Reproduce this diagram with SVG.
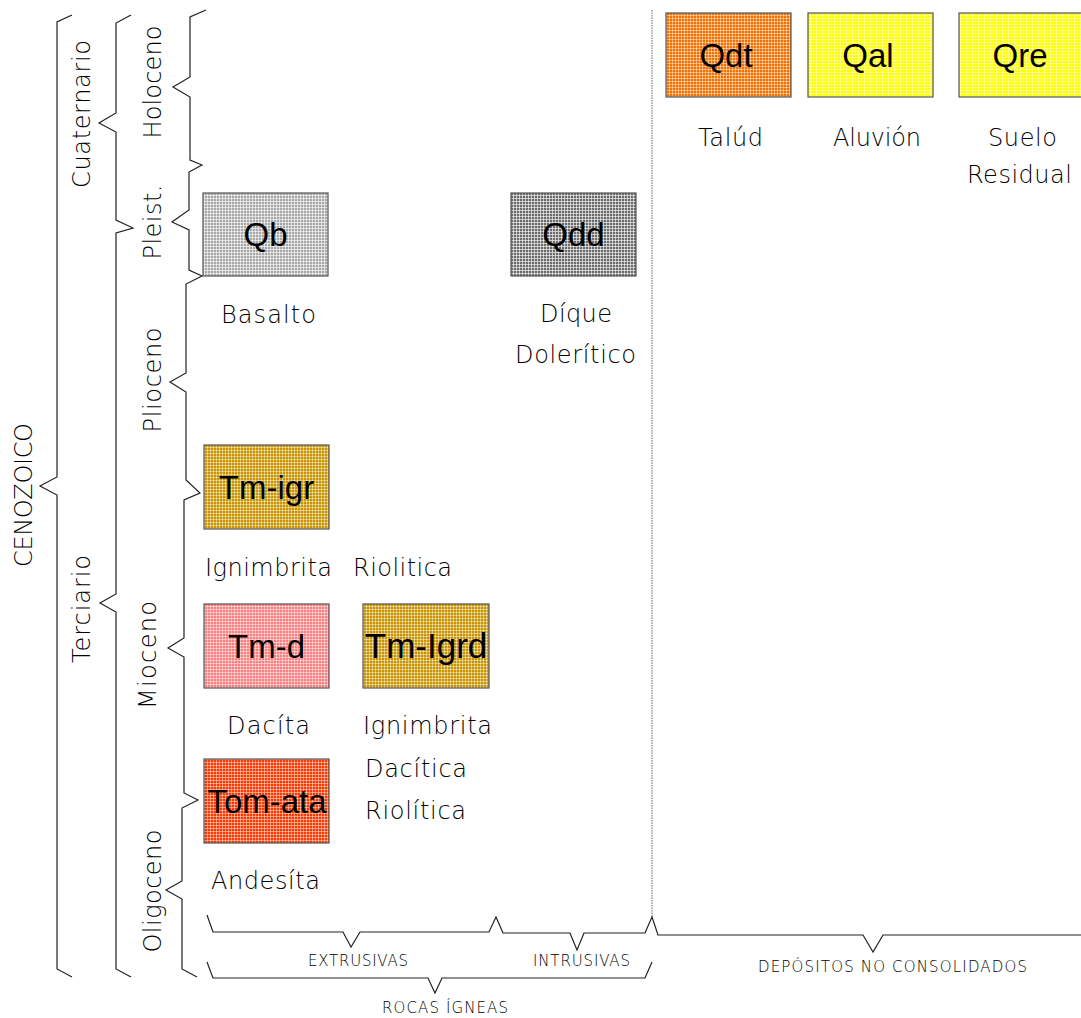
<svg xmlns="http://www.w3.org/2000/svg" width="1081" height="1018" viewBox="0 0 1081 1018">
<style>
.br{fill:none;stroke:#222;stroke-width:1.2;stroke-linejoin:miter}
.box{stroke:#555;stroke-width:1.2}
.code{font-family:"Liberation Sans",Arial,sans-serif;font-size:33px;fill:#000;text-anchor:middle}
.lbl{font-family:"DejaVu Sans","Liberation Sans",sans-serif;font-weight:200;font-size:24px;fill:#000}
.rot{font-family:"DejaVu Sans","Liberation Sans",sans-serif;font-weight:200;font-size:24px;fill:#000;text-anchor:middle}
.sm{font-family:"DejaVu Sans","Liberation Sans",sans-serif;font-weight:200;font-size:15px;fill:#000}
.gl{stroke:#fff;stroke-width:1;stroke-opacity:0.45}
</style>
<defs>
<pattern id="pQb" width="3" height="3" patternUnits="userSpaceOnUse"><rect width="3" height="3" fill="#a8a8a8"/><path class="gl" d="M0,0.5H3M0.5,0V3" style="stroke-opacity:0.6"/></pattern>
<pattern id="pQdd" width="3" height="3" patternUnits="userSpaceOnUse"><rect width="3" height="3" fill="#6c6c6c"/><path class="gl" d="M0,0.5H3M0.5,0V3" style="stroke-opacity:0.6"/></pattern>
<pattern id="pOr" width="3" height="3" patternUnits="userSpaceOnUse"><rect width="3" height="3" fill="#f07000"/><path class="gl" d="M0,0.5H3M0.5,0V3"/></pattern>
<pattern id="pYe" width="3" height="3" patternUnits="userSpaceOnUse"><rect width="3" height="3" fill="#ffff00"/><path class="gl" d="M0,0.5H3M0.5,0V3"/></pattern>
<pattern id="pGo" width="3" height="3" patternUnits="userSpaceOnUse"><rect width="3" height="3" fill="#c89400"/><path class="gl" d="M0,0.5H3M0.5,0V3"/></pattern>
<pattern id="pPk" width="3" height="3" patternUnits="userSpaceOnUse"><rect width="3" height="3" fill="#f88080"/><path class="gl" d="M0,0.5H3M0.5,0V3"/></pattern>
<pattern id="pRd" width="3" height="3" patternUnits="userSpaceOnUse"><rect width="3" height="3" fill="#f83800"/><path class="gl" d="M0,0.5H3M0.5,0V3"/></pattern>
</defs>
<rect width="1081" height="1018" fill="#fff"/>

<g id="connectors">
<path class="br" d="M72,15 L57,22 L57,477 L40,486 L57,495 L57,969 L72,977"/>
<path class="br" d="M131,15 L116,23 L116,113 L99,123 L116,132 L116,220 L133,228 L116,233 L116,594 L100,603 L116,612 L116,969 L131,977"/>
<path class="br" d="M206,10 L190,17 L190,77 L173,87 L190,97 L190,160 L202,165 L189,172 L189,210 L172,222 L189,230 L189,270 L202,276 L186,284 L186,373 L170,382 L186,392 L186,480 L200,493 L184,500 L184,638 L168,648 L184,657 L184,793 L198,800 L182,808 L182,881 L166,890 L182,899 L182,969 L197,977"/>
<path class="br" d="M207,915 L213,932 L343,932 L351,947 L360,932 L489,932 L496,917 L503,933 L570,933 L577,950 L584,933 L645,933 L652,917 L658,935 L863,935 L873,952 L883,935 L1081,935"/>
<path class="br" d="M207,962 L213,978 L428,978 L435,993 L442,978 L645,978 L652,962"/>
<path d="M652,10 V917" fill="none" stroke="#666" stroke-width="1" stroke-dasharray="1.5,1"/>
</g>

<g id="era-labels">
<text class="rot" transform="translate(23,495) rotate(-90)" y="9" textLength="144" lengthAdjust="spacing">CENOZOICO</text>
<text class="rot" transform="translate(81,114) rotate(-90)" y="9" textLength="148" lengthAdjust="spacing">Cuaternario</text>
<text class="rot" transform="translate(81,609) rotate(-90)" y="9" textLength="108" lengthAdjust="spacing">Terciario</text>
<text class="rot" transform="translate(152,82) rotate(-90)" y="9" textLength="113" lengthAdjust="spacing">Holoceno</text>
<text class="rot" transform="translate(152,222) rotate(-90)" y="9" textLength="75" lengthAdjust="spacing">Pleist.</text>
<text class="rot" transform="translate(152,380) rotate(-90)" y="9" textLength="105" lengthAdjust="spacing">Plioceno</text>
<text class="rot" transform="translate(147,655) rotate(-90)" y="9" textLength="108" lengthAdjust="spacing">Mioceno</text>
<text class="rot" transform="translate(152,891) rotate(-90)" y="9" textLength="123" lengthAdjust="spacing">Oligoceno</text>
</g>

<g id="Qb"><rect class="box" x="203" y="193" width="125" height="83" fill="url(#pQb)"/><text class="code" x="265.5" y="246">Qb</text><text class="lbl" x="221" y="323" textLength="95" lengthAdjust="spacing">Basalto</text></g>
<g id="Qdd"><rect class="box" x="511" y="193" width="125" height="83" fill="url(#pQdd)"/><text class="code" x="573.5" y="246">Qdd</text><text class="lbl" x="540" y="322" textLength="72" lengthAdjust="spacing">Díque</text><text class="lbl" x="515" y="363" textLength="121" lengthAdjust="spacing">Dolerítico</text></g>
<g id="Qdt"><rect class="box" x="666" y="13" width="125" height="84" fill="url(#pOr)"/><text class="code" x="726" y="67">Qdt</text><text class="lbl" x="698" y="146" textLength="65" lengthAdjust="spacing">Talúd</text></g>
<g id="Qal"><rect class="box" x="808" y="13" width="125" height="84" fill="url(#pYe)"/><text class="code" x="868" y="67">Qal</text><text class="lbl" x="833" y="146" textLength="88" lengthAdjust="spacing">Aluvión</text></g>
<g id="Qre"><rect class="box" x="959" y="13" width="126" height="84" fill="url(#pYe)"/><text class="code" x="1020" y="67">Qre</text><text class="lbl" x="988" y="146" textLength="69" lengthAdjust="spacing">Suelo</text><text class="lbl" x="967" y="183" textLength="105" lengthAdjust="spacing">Residual</text></g>
<g id="Tm-igr"><rect class="box" x="204" y="445" width="125" height="84" fill="url(#pGo)"/><text class="code" x="266.5" y="499">Tm-igr</text><text class="lbl" x="205" y="576" textLength="127" lengthAdjust="spacing">Ignimbrita</text><text class="lbl" x="353" y="576" textLength="99" lengthAdjust="spacing">Riolitica</text></g>
<g id="Tm-d"><rect class="box" x="204" y="604" width="125" height="84" fill="url(#pPk)"/><text class="code" x="266.5" y="658">Tm-d</text><text class="lbl" x="227" y="734" textLength="83" lengthAdjust="spacing">Dacíta</text></g>
<g id="Tm-Igrd"><rect class="box" x="363" y="604" width="126" height="84" fill="url(#pGo)"/><text class="code" x="426" y="658" style="font-size:35px">Tm-Igrd</text><text class="lbl" x="363" y="734" textLength="129" lengthAdjust="spacing">Ignimbrita</text><text class="lbl" x="365" y="777" textLength="102" lengthAdjust="spacing">Dacítica</text><text class="lbl" x="365" y="819" textLength="101" lengthAdjust="spacing">Riolítica</text></g>
<g id="Tom-ata"><rect class="box" x="204" y="759" width="125" height="84" fill="url(#pRd)"/><text class="code" x="267" y="813">Tom-ata</text><text class="lbl" x="211" y="889" textLength="109" lengthAdjust="spacing">Andesíta</text></g>

<g id="group-labels">
<text class="sm" x="308" y="966" textLength="100" lengthAdjust="spacing">EXTRUSIVAS</text>
<text class="sm" x="533" y="966" textLength="97" lengthAdjust="spacing">INTRUSIVAS</text>
<text class="sm" x="758" y="972" textLength="269" lengthAdjust="spacing">DEPÓSITOS NO CONSOLIDADOS</text>
<text class="sm" x="382" y="1013" textLength="126" lengthAdjust="spacing">ROCAS ÍGNEAS</text>
</g>
</svg>
